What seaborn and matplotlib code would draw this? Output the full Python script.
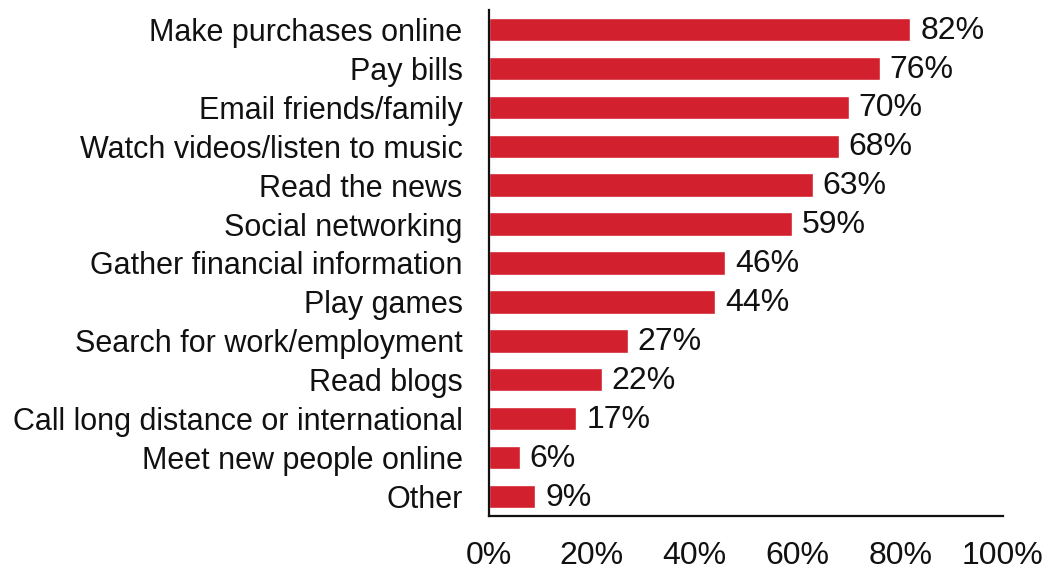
import pandas as pd
import matplotlib.pyplot as plt
import seaborn as sns

# data
activities = [
    "Make purchases online", "Pay bills", "Email friends/family",
    "Watch videos/listen to music", "Read the news", "Social networking",
    "Gather financial information", "Play games", "Search for work/employment",
    "Read blogs", "Call long distance or international", "Meet new people online",
    "Other",
]
shares = [82, 76, 70, 68, 63, 59, 46, 44, 27, 22, 17, 6, 9]
tick_values = [0, 20, 40, 60, 80, 100]
tick_labels = ["0%", "20%", "40%", "60%", "80%", "100%"]

df = pd.DataFrame({"activity": activities, "share": shares})

sns.set_style("white")
plt.rcParams["font.family"] = ["Liberation Sans", "DejaVu Sans"]

bar_red = "#D3202E"

fig = plt.figure(figsize=(10.5, 5.69), dpi=100)
ax = fig.add_axes([489 / 1050, 53 / 569, 514 / 1050, 506 / 569])

sns.barplot(data=df, y="activity", x="share", color=bar_red, saturation=1,
            width=0.6, orient="h", ax=ax)

for i, v in enumerate(shares):
    ax.text(v + 1.9, i + 0.03, f"{v}%", va="center", ha="left", fontsize=23, color="#111111")

ax.set_xlim(0, 100)
ax.set_ylim(12.5, -0.5)
ax.set_xticks(tick_values)
ax.set_xticklabels(tick_labels)
ax.set_xlabel("")
ax.set_ylabel("")
ax.tick_params(axis="both", length=0, labelsize=22, colors="#111111")
ax.tick_params(axis="x", labelsize=23, pad=18)
ax.tick_params(axis="y", pad=19)

for side in ["top", "right"]:
    ax.spines[side].set_visible(False)
for side in ["left", "bottom"]:
    ax.spines[side].set_color("#111111")
    ax.spines[side].set_linewidth(1.6)

plt.savefig("out.png", dpi=100)
